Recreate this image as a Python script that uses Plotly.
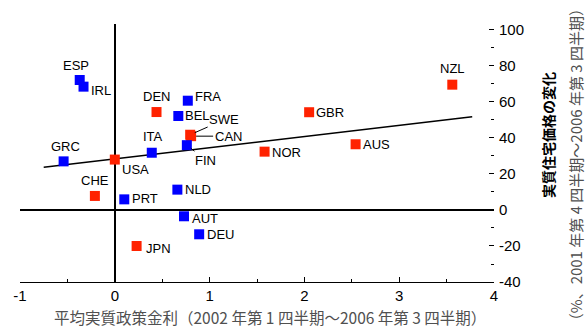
import plotly.graph_objects as go

# ---- data ----
countries = ["ESP", "IRL", "GRC", "USA", "ITA", "DEN", "FRA", "BEL", "SWE", "CAN", "FIN",
             "NOR", "GBR", "AUS", "NZL", "CHE", "PRT", "NLD", "AUT", "DEU", "JPN"]
policy_rate = [-0.37, -0.33, -0.54, 0.00, 0.39, 0.44, 0.77, 0.67, 0.795, 0.805, 0.76,
               1.58, 2.05, 2.54, 3.56, -0.21, 0.10, 0.66, 0.73, 0.89, 0.23]
house_price = [72.2, 68.5, 27.0, 28.0, 31.8, 54.4, 60.7, 52.2, 41.8, 41.0, 36.0,
               32.4, 54.3, 36.5, 69.6, 7.8, 5.9, 11.3, -3.5, -13.5, -20.0]
group = ["euro", "euro", "euro", "other", "euro", "other", "euro", "euro", "other", "other", "euro",
         "other", "other", "other", "other", "other", "euro", "euro", "euro", "euro", "other"]
trend_x = [-0.75, 3.77]
trend_y = [23.7, 51.8]
x_ticks = [-1, 0, 1, 2, 3, 4]
x_tick_labels = ["-1", "0", "1", "2", "3", "4"]
y_ticks = [-40, -20, 0, 20, 40, 60, 80, 100]
y_tick_labels = ["-40", "-20", "0", "20", "40", "60", "80", "100"]

colors = {"euro": "#0000FF", "other": "#FF2200"}
LAT = "Liberation Sans, Arial, sans-serif"
CJK = "Noto Sans CJK JP"

fig = go.Figure()
fig.add_trace(go.Scatter(x=trend_x, y=trend_y, mode="lines",
                         line=dict(color="black", width=1.5), hoverinfo="skip", showlegend=False))
fig.add_trace(go.Scatter(x=policy_rate, y=house_price, mode="markers",
                         marker=dict(symbol="square", size=10, color=[colors[g] for g in group],
                                     line=dict(width=0)),
                         showlegend=False))

# label placement (xanchor, yanchor, xshift, yshift)
place = {
    "ESP": ("center", "bottom", -4, 5), "IRL": ("left", "middle", 5, -4),
    "GRC": ("center", "bottom", 2, 5), "USA": ("left", "middle", 5, -10),
    "ITA": ("center", "bottom", 1, 7), "DEN": ("center", "bottom", 0, 6),
    "FRA": ("left", "middle", 5, 4), "BEL": ("left", "middle", 5, 1),
    "NOR": ("left", "middle", 5, -1), "GBR": ("left", "middle", 5, 0),
    "AUS": ("left", "middle", 5, 0), "NZL": ("center", "bottom", 0, 7),
    "CHE": ("center", "bottom", 0, 6), "PRT": ("left", "middle", 6, 1),
    "NLD": ("left", "middle", 6, 0), "AUT": ("left", "middle", 6, -2),
    "DEU": ("left", "middle", 6, 0), "JPN": ("left", "middle", 7, -3),
}
arrows = {"SWE": (34, -15), "CAN": (37, 0), "FIN": (19, 15)}

for c, x, y in zip(countries, policy_rate, house_price):
    if c in place:
        xa, ya, xs, ys = place[c]
        fig.add_annotation(x=x, y=y, text=c, showarrow=False, xanchor=xa, yanchor=ya,
                           xshift=xs, yshift=ys, font=dict(family=LAT, size=13, color="black"))
    else:
        ax, ay = arrows[c]
        fig.add_annotation(x=x, y=y, text=c, showarrow=True, arrowhead=0, arrowwidth=1,
                           arrowcolor="black", ax=ax, ay=ay, standoff=5, startstandoff=0,
                           font=dict(family=LAT, size=13, color="black"))

# axis titles
fig.add_annotation(xref="paper", yref="paper", x=0.527, y=-0.136, yanchor="middle",
                   text="平均実質政策金利（2002 年第 1 四半期～2006 年第 3 四半期）",
                   showarrow=False, font=dict(family=CJK, size=15.5, color="#505050"))
fig.add_annotation(xref="paper", yref="paper", x=1.114, y=0.57, xanchor="center", yanchor="middle",
                   text="<b>実質住宅価格の変化</b>", textangle=-90, showarrow=False,
                   font=dict(family=CJK, size=14, color="black"))
fig.add_annotation(xref="paper", yref="paper", x=1.171, y=0.453, xanchor="center", yanchor="middle",
                   text="（%、2001 年第 4 四半期～2006 年第 3 四半期）", textangle=-90, showarrow=False,
                   font=dict(family=CJK, size=15, color="#505050"))

yr = [-40, 103.3]
fig.update_layout(
    width=585, height=331,
    margin=dict(l=20, r=91, t=24, b=49, autoexpand=False),
    plot_bgcolor="white", paper_bgcolor="white",
    xaxis=dict(range=[-1, 4], tickvals=x_ticks, ticktext=x_tick_labels, ticks="inside",
               ticklen=5, tickcolor="black",
               minor=dict(dtick=0.5, ticks="inside", ticklen=3, tickcolor="black"),
               showline=True, linecolor="black", linewidth=1, mirror=False, automargin=False,
               showgrid=False, zeroline=True, zerolinecolor="black", zerolinewidth=1.5,
               tickfont=dict(family=LAT, size=15, color="black"), fixedrange=True),
    yaxis=dict(range=yr, side="right", tickvals=y_ticks, ticktext=y_tick_labels, ticks="inside",
               ticklen=5, automargin=False,
               tickcolor="black", minor=dict(dtick=10, ticks="inside", ticklen=3, tickcolor="black"),
               showline=False, showgrid=False, zeroline=True, zerolinecolor="black",
               zerolinewidth=1.5, tickfont=dict(family=LAT, size=15, color="black"),
               ticklabelstandoff=4),
    yaxis2=dict(range=yr, overlaying="y", side="left", dtick=10, tick0=0, ticks="inside",
                ticklen=5, tickcolor="black", showticklabels=False, showline=False,
                showgrid=False, zeroline=False, automargin=False),
    showlegend=False,
)
fig.write_html("out.html", config={"displayModeBar": False},
               post_script="document.body.style.margin='0';document.body.style.overflow='hidden';")
